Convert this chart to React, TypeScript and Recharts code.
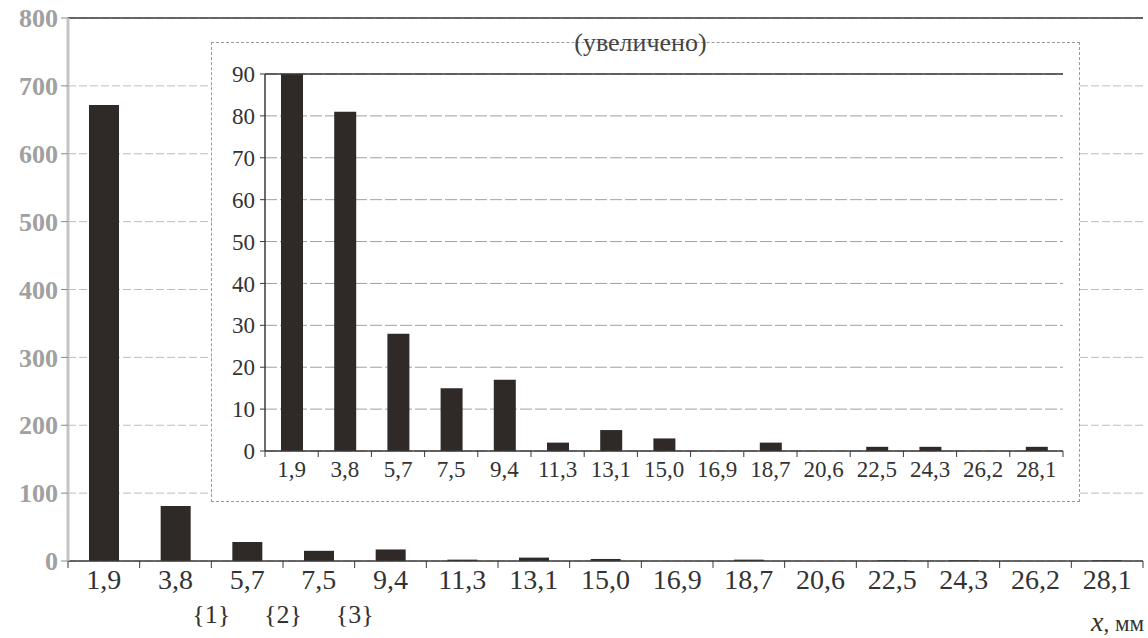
import React from 'react';
import { BarChart, Bar, XAxis, YAxis, CartesianGrid, ReferenceLine } from 'recharts';

// Size-class histogram with a zoomed inset of the same counts
const SERIF = '"Liberation Serif", "Times New Roman", Tinos, "DejaVu Serif", "Noto Serif", serif';

const sizes = ['1,9', '3,8', '5,7', '7,5', '9,4', '11,3', '13,1', '15,0', '16,9', '18,7', '20,6', '22,5', '24,3', '26,2', '28,1'];
const counts = [672, 81, 28, 15, 17, 2, 5, 3, 0, 2, 0, 1, 1, 0, 1];
const mainTicks = [0, 100, 200, 300, 400, 500, 600, 700, 800];
const zoomTicks = [0, 10, 20, 30, 40, 50, 60, 70, 80, 90];
// group marks sit on the boundary right after these classes
const groupMarks: Record<string, string> = { '3,8': '{1}', '5,7': '{2}', '7,5': '{3}' };

const data = sizes.map((size, i) => ({ size, count: counts[i] }));

const COLORS = {
  BAR: '#2f2a27',
  AXIS: '#3a3a3a',
  GRID: '#bdbdbd',
  TEXT: '#333333',
  Y_MAIN: '#a0a0a0',
};

// layout
const W = 1148;
const H = 638;
const MAIN = { top: 18, right: 5, yAxis: 68, xAxis: 77 };
const INSET = { left: 212, top: 43, w: 867, h: 458, mTop: 31, mRight: 16, yAxis: 53, xAxis: 50 };

const mainHalfBand = (W - MAIN.yAxis - MAIN.right) / sizes.length / 2;
const insetHalfBand = (INSET.w - INSET.yAxis - INSET.mRight) / sizes.length / 2;

// category tick: label at the centre, tick mark on the right boundary
const SizeTick = (props: any) => {
  const { x, y, payload, half, fontSize, dy, tickLen, marks, markDy } = props;
  const mark = marks ? marks[payload.value] : undefined;
  return (
    <g>
      {payload.index === 0 && (
        <line x1={x - half} y1={y} x2={x - half} y2={y + tickLen} stroke={COLORS.AXIS} />
      )}
      <line x1={x + half} y1={y} x2={x + half} y2={y + tickLen} stroke={COLORS.AXIS} />
      <text x={x} y={y + dy} textAnchor="middle" fontSize={fontSize} style={{ fontFamily: SERIF }} fill={COLORS.TEXT}>
        {payload.value}
      </text>
      {mark && (
        <text x={x + half} y={y + markDy} textAnchor="middle" fontSize={fontSize - 2} style={{ fontFamily: SERIF }} fill={COLORS.TEXT}>
          {mark}
        </text>
      )}
    </g>
  );
};

const MainChart = () => (
  <BarChart
    width={W}
    height={H}
    data={data}
    margin={{ top: MAIN.top, right: MAIN.right, left: 0, bottom: 0 }}
    barCategoryGap={0}
    style={{ fontFamily: SERIF }}
  >
    <CartesianGrid vertical={false} stroke={COLORS.GRID} strokeDasharray="8 3" />
    <XAxis
      dataKey="size"
      height={MAIN.xAxis}
      interval={0}
      tickSize={0}
      tickMargin={0}
      axisLine={{ stroke: COLORS.AXIS, strokeWidth: 1.5 }}
      tick={<SizeTick half={mainHalfBand} fontSize={28} dy={28} tickLen={7} marks={groupMarks} markDy={62} />}
    />
    <YAxis
      width={MAIN.yAxis}
      domain={[0, 800]}
      ticks={mainTicks}
      interval={0}
      tickSize={7}
      tickMargin={3}
      axisLine={{ stroke: '#c4c4c4', strokeWidth: 3 }}
      tickLine={{ stroke: '#8a8a8a' }}
      tick={{ fill: COLORS.Y_MAIN, fontSize: 26, fontWeight: 700, fontFamily: SERIF }}
    />
    <YAxis
      yAxisId="frame"
      orientation="right"
      width={0}
      domain={[0, 800]}
      tick={false}
      tickLine={false}
      axisLine={{ stroke: COLORS.AXIS, strokeWidth: 1.5 }}
    />
    <ReferenceLine y={800} stroke={COLORS.AXIS} strokeWidth={1.5} />
    <Bar dataKey="count" fill={COLORS.BAR} barSize={30} isAnimationActive={false} />
  </BarChart>
);

const InsetChart = () => (
  <div
    style={{
      position: 'absolute',
      left: INSET.left,
      top: INSET.top,
      width: INSET.w,
      height: INSET.h,
      background: '#fff',
      outline: '1px dashed #9a9a9a',
    }}
  >
    <BarChart
      width={INSET.w}
      height={INSET.h}
      data={data}
      margin={{ top: INSET.mTop, right: INSET.mRight, left: 0, bottom: 0 }}
      barCategoryGap={0}
      style={{ fontFamily: SERIF }}
    >
      <CartesianGrid vertical={false} stroke="#a0a0a0" strokeDasharray="12 3" />
      <XAxis
        dataKey="size"
        height={INSET.xAxis}
        interval={0}
        tickSize={0}
        tickMargin={0}
        axisLine={{ stroke: COLORS.AXIS, strokeWidth: 1.5 }}
        tick={<SizeTick half={insetHalfBand} fontSize={23} dy={26} tickLen={6} />}
      />
      <YAxis
        width={INSET.yAxis}
        domain={[0, 90]}
        ticks={zoomTicks}
        interval={0}
        allowDataOverflow
        tickSize={5}
        tickMargin={5}
        axisLine={{ stroke: COLORS.AXIS, strokeWidth: 1.5 }}
        tickLine={{ stroke: COLORS.AXIS }}
        tick={{ fill: COLORS.TEXT, fontSize: 23, fontFamily: SERIF }}
      />
      <YAxis
        yAxisId="frame"
        orientation="right"
        width={0}
        domain={[0, 90]}
        tick={false}
        tickLine={false}
        axisLine={{ stroke: COLORS.AXIS, strokeWidth: 1.5 }}
      />
      <ReferenceLine y={90} stroke={COLORS.AXIS} strokeWidth={1.5} />
      <Bar dataKey="count" fill={COLORS.BAR} barSize={22} isAnimationActive={false} />
    </BarChart>
    <div
      style={{
        position: 'absolute',
        left: 0,
        width: INSET.w - 10,
        top: -14,
        textAlign: 'center',
        fontFamily: SERIF,
        fontSize: 26,
        color: '#444',
        lineHeight: '28px',
      }}
    >
      (увеличено)
    </div>
  </div>
);

export default function App() {
  return (
    <div style={{ position: 'absolute', left: 0, top: 0, width: W, height: H, background: '#fff', overflow: 'hidden', fontFamily: SERIF }}>
      <MainChart />
      <InsetChart />
      <div
        style={{
          position: 'absolute',
          right: 4,
          top: 608,
          fontFamily: SERIF,
          fontSize: 23,
          color: COLORS.TEXT,
          lineHeight: '28px',
        }}
      >
        <i style={{ fontSize: 28 }}>x</i>, мм
      </div>
    </div>
  );
}
